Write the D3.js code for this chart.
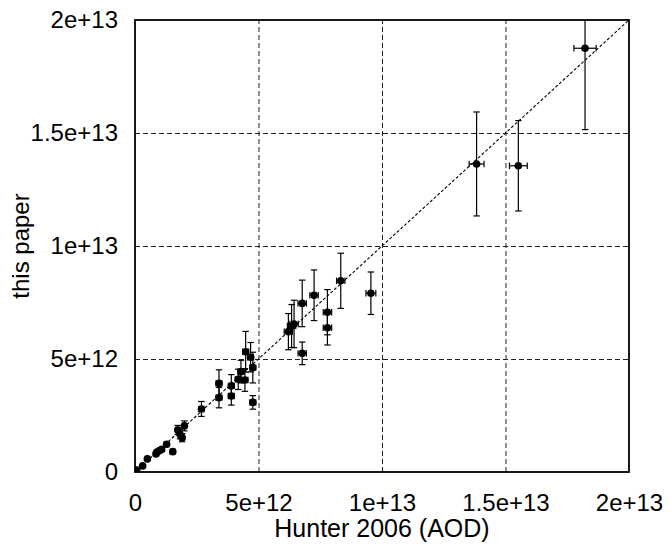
<!DOCTYPE html>
<html>
<head>
<meta charset="utf-8">
<script src="https://cdn.jsdelivr.net/npm/d3@7"></script>
<style>
  body { margin: 0; background: #fff; }
  svg { display: block; font-family: "Liberation Sans", Arial, Helvetica, sans-serif; }
  .grid line { stroke: #222; stroke-width: 1; stroke-dasharray: 5,3; }
  .grid path { display: none; }
  .axis path, .axis line { display: none; }
  .axis text { font-size: 24px; fill: #000; }
  .diag { stroke: #000; stroke-width: 1.1; stroke-dasharray: 3,2; fill: none; }
  .err { stroke: #000; stroke-width: 1.2; }
  .frame { fill: none; stroke: #000; stroke-width: 1.8; }
</style>
</head>
<body>
<script>
// Hunter 2006 (AOD) values against the values derived here
var hunter = [0.07e12, 0.31e12, 0.50e12, 0.85e12, 0.98e12, 1.08e12, 0.89e12, 1.28e12, 1.53e12,
    1.73e12, 1.82e12, 1.91e12, 2.00e12, 2.69e12,
    3.40e12, 3.40e12, 3.90e12, 3.90e12, 4.18e12, 4.29e12, 4.45e12, 4.48e12, 4.68e12, 4.77e12, 4.77e12,
    6.21e12, 6.34e12, 6.44e12, 6.77e12, 6.77e12, 7.25e12, 7.79e12, 7.79e12, 8.33e12, 9.55e12,
    13.83e12, 15.52e12, 18.22e12];
var hunterErr = [0.05e12, 0.05e12, 0.05e12, 0.05e12, 0.05e12, 0.05e12, 0.05e12, 0.05e12, 0.05e12,
    0.08e12, 0.08e12, 0.08e12, 0.08e12, 0.10e12,
    0.12e12, 0.12e12, 0.12e12, 0.12e12, 0.12e12, 0.12e12, 0.12e12, 0.12e12, 0.12e12, 0.12e12, 0.12e12,
    0.17e12, 0.17e12, 0.17e12, 0.17e12, 0.17e12, 0.17e12, 0.17e12, 0.17e12, 0.17e12, 0.20e12,
    0.30e12, 0.36e12, 0.45e12];
var paper = [0.09e12, 0.27e12, 0.58e12, 0.80e12, 0.94e12, 1.00e12, 0.88e12, 1.23e12, 0.90e12,
    1.86e12, 1.67e12, 1.52e12, 2.04e12, 2.79e12,
    3.92e12, 3.29e12, 3.81e12, 3.36e12, 4.10e12, 4.44e12, 4.07e12, 5.32e12, 5.08e12, 4.62e12, 3.08e12,
    6.21e12, 6.46e12, 6.55e12, 7.46e12, 5.25e12, 7.82e12, 7.07e12, 6.38e12, 8.46e12, 7.91e12,
    13.63e12, 13.55e12, 18.75e12];
var paperErr = [0.05e12, 0.05e12, 0.05e12, 0.08e12, 0.08e12, 0.08e12, 0.08e12, 0.10e12, 0.10e12,
    0.20e12, 0.20e12, 0.18e12, 0.22e12, 0.33e12,
    0.60e12, 0.45e12, 0.50e12, 0.40e12, 0.45e12, 0.50e12, 0.50e12, 0.90e12, 0.65e12, 0.68e12, 0.30e12,
    0.80e12, 0.95e12, 1.05e12, 1.03e12, 0.50e12, 1.12e12, 1.00e12, 0.76e12, 1.22e12, 0.94e12,
    2.30e12, 2.00e12, 3.60e12];
var tickValues = [0, 5e12, 1e13, 1.5e13, 2e13];
var xTitle = "Hunter 2006 (AOD)";
var yTitle = "this paper";

window.onload = drawChart();

function drawChart() {
    var width = 670, height = 544;
    var margin = {top: 20, right: 41, bottom: 72, left: 135};
    var w = width - margin.left - margin.right,
        h = height - margin.top - margin.bottom;

    var svg = d3.select("body").append("svg")
        .attr("width", width)
        .attr("height", height);

    var g = svg.append("g")
        .attr("transform", "translate(" + margin.left + "," + margin.top + ")");

    var x = d3.scaleLinear().domain([0, 2e13]).range([0, w]);
    var y = d3.scaleLinear().domain([0, 2e13]).range([h, 0]);

    //clip everything to the frame
    g.append("clipPath").attr("id", "plotclip")
        .append("rect").attr("width", w).attr("height", h);

    //dashed grid
    g.append("g").attr("class", "grid")
        .attr("transform", "translate(0," + h + ")")
        .call(d3.axisBottom(x).tickValues(tickValues.slice(1, -1)).tickSize(-h).tickFormat(""));
    g.append("g").attr("class", "grid")
        .call(d3.axisLeft(y).tickValues(tickValues.slice(1, -1)).tickSize(-w).tickFormat(""));

    //tick labels
    function fmt(v) { return v === 0 ? "0" : v.toExponential(); }
    g.append("g").attr("class", "axis")
        .attr("transform", "translate(0," + h + ")")
        .call(d3.axisBottom(x).tickValues(tickValues).tickSize(0).tickPadding(22).tickFormat(fmt));
    g.append("g").attr("class", "axis")
        .call(d3.axisLeft(y).tickValues(tickValues).tickSize(0).tickPadding(17).tickFormat(fmt));

    var plot = g.append("g").attr("clip-path", "url(#plotclip)");

    //y = x reference line
    plot.append("line").attr("class", "diag")
        .attr("x1", x(0)).attr("y1", y(0))
        .attr("x2", x(2e13)).attr("y2", y(2e13));

    var idx = d3.range(hunter.length);
    var cap = 3.2;

    //error bars in both directions
    var bars = plot.selectAll(".bar").data(idx).enter().append("g").attr("class", "bar");
    bars.append("line").attr("class", "err")
        .attr("x1", function(i){ return x(hunter[i]); })
        .attr("x2", function(i){ return x(hunter[i]); })
        .attr("y1", function(i){ return y(paper[i] - paperErr[i]); })
        .attr("y2", function(i){ return y(paper[i] + paperErr[i]); });
    [-1, 1].forEach(function(s){
        bars.append("line").attr("class", "err")
            .attr("x1", function(i){ return x(hunter[i]) - cap; })
            .attr("x2", function(i){ return x(hunter[i]) + cap; })
            .attr("y1", function(i){ return y(paper[i] + s * paperErr[i]); })
            .attr("y2", function(i){ return y(paper[i] + s * paperErr[i]); });
        bars.append("line").attr("class", "err")
            .attr("x1", function(i){ return x(hunter[i] + s * hunterErr[i]); })
            .attr("x2", function(i){ return x(hunter[i] + s * hunterErr[i]); })
            .attr("y1", function(i){ return y(paper[i]) - cap; })
            .attr("y2", function(i){ return y(paper[i]) + cap; });
    });
    bars.append("line").attr("class", "err")
        .attr("x1", function(i){ return x(hunter[i] - hunterErr[i]); })
        .attr("x2", function(i){ return x(hunter[i] + hunterErr[i]); })
        .attr("y1", function(i){ return y(paper[i]); })
        .attr("y2", function(i){ return y(paper[i]); });

    //points
    plot.selectAll(".pt").data(idx).enter().append("circle")
        .attr("class", "pt")
        .attr("cx", function(i){ return x(hunter[i]); })
        .attr("cy", function(i){ return y(paper[i]); })
        .attr("r", 3.8)
        .style("fill", "#000");

    //frame
    g.append("rect").attr("class", "frame").attr("width", w).attr("height", h);

    //axis titles
    svg.append("text")
        .attr("x", margin.left + w / 2)
        .attr("y", 537)
        .attr("text-anchor", "middle")
        .style("font-size", "25px")
        .text(xTitle);
    svg.append("text")
        .attr("transform", "translate(29," + (margin.top + h / 2) + ") rotate(-90)")
        .attr("text-anchor", "middle")
        .style("font-size", "24px")
        .text(yTitle);
}
</script>
</body>
</html>
